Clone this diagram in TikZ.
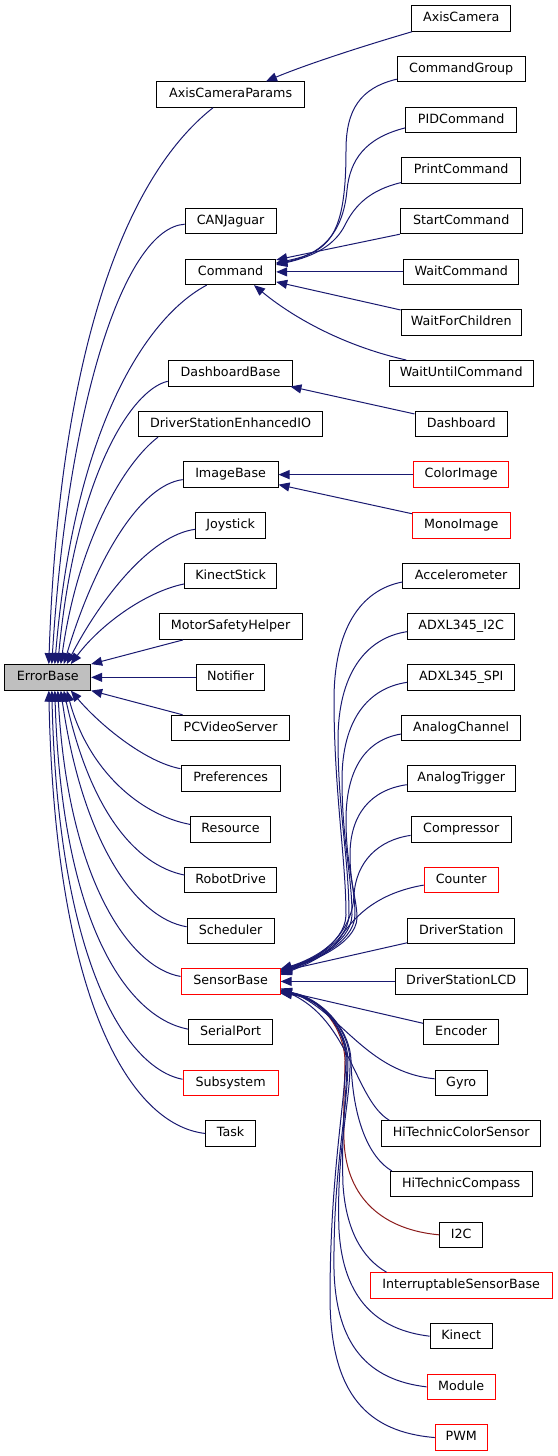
\documentclass[tikz,border=0pt]{standalone}
\usepackage{fontspec}
\newfontfamily\djv{DejaVu Sans}
\usetikzlibrary{arrows.meta,calc}
\definecolor{edgeblue}{HTML}{191970}
\definecolor{edgered}{HTML}{8B1A1A}
\definecolor{basegray}{HTML}{BFBFBF}
\tikzset{
  cls/.style={draw=black, line width=1pt, fill=white, minimum height=25.5pt,
    inner xsep=1pt, inner ysep=0pt, text height=9.4pt, text depth=2.9pt,
    font=\djv\fontsize{12.7}{15}\selectfont},
  clsred/.style={cls, draw=red},
  inh/.style={draw=edgeblue, line width=1pt, -{Triangle[length=11pt,width=9pt]}},
  inhred/.style={inh, draw=edgered},
}
\begin{document}
\begin{tikzpicture}[x=1pt,y=-1pt]
\useasboundingbox (0,0) rectangle (557,1456);
% right column
\node[cls, minimum width=99.5pt] (ACam) at (461.2,18.5) {AxisCamera};
\node[cls, minimum width=127.9pt] (CG) at (461.2,69.18) {CommandGroup};
\node[cls, minimum width=110.8pt] (PIDC) at (461.2,119.86) {PIDCommand};
\node[cls, minimum width=119.0pt] (PrC) at (461.2,170.54) {PrintCommand};
\node[cls, minimum width=121.8pt] (StC) at (461.2,221.22) {StartCommand};
\node[cls, minimum width=115.1pt] (WC) at (461.2,271.9) {WaitCommand};
\node[cls, minimum width=120.1pt] (WFC) at (461.2,322.58) {WaitForChildren};
\node[cls, minimum width=144.2pt] (WUC) at (461.2,373.26) {WaitUntilCommand};
\node[cls, minimum width=92.4pt] (Dash) at (461.2,423.94) {Dashboard};
\node[clsred, minimum width=95.2pt] (CI) at (461.2,474.62) {ColorImage};
\node[clsred, minimum width=97.7pt] (MI) at (461.2,525.3) {MonoImage};
\node[cls, minimum width=116.5pt] (Acc) at (461.2,575.98) {Accelerometer};
\node[cls, minimum width=107.3pt] (AI2C) at (461.2,626.66) {ADXL345\_I2C};
\node[cls, minimum width=107.3pt] (ASPI) at (461.2,677.34) {ADXL345\_SPI};
\node[cls, minimum width=119.4pt] (AC) at (461.2,728.02) {AnalogChannel};
\node[cls, minimum width=108.0pt] (AT) at (461.2,778.7) {AnalogTrigger};
\node[cls, minimum width=100.2pt] (Comp) at (461.2,829.38) {Compressor};
\node[clsred, minimum width=73.9pt] (Cnt) at (461.2,880.06) {Counter};
\node[cls, minimum width=106.9pt] (DS) at (461.2,930.74) {DriverStation};
\node[cls, minimum width=132.2pt] (DSLCD) at (461.2,981.42) {DriverStationLCD};
\node[cls, minimum width=75.3pt] (Enc) at (461.2,1032.1) {Encoder};
\node[cls, minimum width=52.2pt] (Gyro) at (461.2,1082.78) {Gyro};
\node[cls, minimum width=158.8pt] (HTCS) at (461.2,1133.46) {HiTechnicColorSensor};
\node[cls, minimum width=141.7pt] (HTC) at (461.2,1184.14) {HiTechnicCompass};
\node[cls, minimum width=43.0pt] (I2C) at (461.2,1234.82) {I2C};
\node[clsred, minimum width=182.2pt] (ISB) at (461.2,1285.5) {InterruptableSensorBase};
\node[cls, minimum width=62.2pt] (Kin) at (461.2,1336.18) {Kinect};
\node[clsred, minimum width=68.2pt] (Mod) at (461.2,1386.86) {Module};
\node[clsred, minimum width=51.9pt] (PWM) at (461.2,1437.54) {PWM};
% middle column
\node[cls, minimum width=147.4pt] (ACP) at (230.6,94.52) {AxisCameraParams};
\node[cls, minimum width=90.9pt] (CAN) at (230.6,221.22) {CANJaguar};
\node[cls, minimum width=90.2pt] (Cmd) at (230.6,271.9) {Command};
\node[cls, minimum width=124.7pt] (DB) at (230.6,373.26) {DashboardBase};
\node[cls, minimum width=183.3pt] (DSEIO) at (230.6,423.94) {DriverStationEnhancedIO};
\node[cls, minimum width=94.8pt] (IB) at (230.6,474.62) {ImageBase};
\node[cls, minimum width=69.6pt] (Joy) at (230.6,525.3) {Joystick};
\node[cls, minimum width=92.4pt] (KS) at (230.6,575.98) {KinectStick};
\node[cls, minimum width=142.8pt] (MSH) at (230.6,626.66) {MotorSafetyHelper};
\node[cls, minimum width=68.2pt] (Notif) at (230.6,677.34) {Notifier};
\node[cls, minimum width=117.9pt] (PCVS) at (230.6,728.02) {PCVideoServer};
\node[cls, minimum width=99.1pt] (Pref) at (230.6,778.7) {Preferences};
\node[cls, minimum width=80.3pt] (Res) at (230.6,829.38) {Resource};
\node[cls, minimum width=91.3pt] (RD) at (230.6,880.06) {RobotDrive};
\node[cls, minimum width=87.0pt] (Sched) at (230.6,930.74) {Scheduler};
\node[clsred, minimum width=99.1pt] (SB) at (230.6,981.42) {SensorBase};
\node[cls, minimum width=84.5pt] (SP) at (230.6,1032.1) {SerialPort};
\node[clsred, minimum width=95.2pt] (Sub) at (230.6,1082.78) {Subsystem};
\node[cls, minimum width=49.7pt] (Task) at (230.6,1133.46) {Task};
% base
\node[cls, fill=basegray, minimum width=85.7pt] (EB) at (47.8,677.34) {ErrorBase};

% ---- edges into ErrorBase (top)
\draw[inh] ($(ACP.south)+(-17.6,0)$) .. controls (115,185) and (58,380) .. ($(EB.north)+(1,0)$);
\draw[inh] ($(CAN.west)+(0,3)$) .. controls (125,228) and (68,400) .. ($(EB.north)+(4,0)$);
\draw[inh] ($(Cmd.south)+(-23.9,0)$) .. controls (150,315) and (75,420) .. ($(EB.north)+(7,0)$);
\draw[inh] ($(DB.west)+(0,8)$) .. controls (130,390) and (75,480) .. ($(EB.north)+(10,0)$);
\draw[inh] ($(DSEIO.south)+(-72.6,0)$) .. controls (125,462) and (78,540) .. ($(EB.north)+(13,0)$);
\draw[inh] ($(IB.west)+(0,5)$) .. controls (140,485) and (95,560) .. ($(EB.north)+(16,0)$);
\draw[inh] ($(Joy.west)+(0,4)$) .. controls (150,535) and (100,600) .. ($(EB.north)+(19,0)$);
\draw[inh] ($(KS.west)+(0,8)$) .. controls (145,592) and (100,625) .. ($(EB.north)+(23,0)$);
\draw[inh] ($(MSH.south)+(-47.6,0)$) -- (EB.north east);
\draw[inh] (Notif.west) -- (EB.east);
\draw[inh] ($(PCVS.north west)+(11.4,0)$) -- (EB.south east);
% ---- edges into ErrorBase (bottom)
\draw[inh] ($(Pref.west)+(0,-10)$) .. controls (145,762) and (100,725) .. ($(EB.south)+(23,0)$);
\draw[inh] ($(Res.west)+(0,-5)$) .. controls (140,815) and (88,770) .. ($(EB.south)+(19,0)$);
\draw[inh] ($(RD.west)+(0,-5)$) .. controls (135,865) and (90,810) .. ($(EB.south)+(16,0)$);
\draw[inh] ($(Sched.west)+(0,-4)$) .. controls (135,918) and (82,840) .. ($(EB.south)+(13,0)$);
\draw[inh] ($(SB.west)+(0,-5)$) .. controls (130,968) and (68,880) .. ($(EB.south)+(10,0)$);
\draw[inh] ($(SP.west)+(0,-3)$) .. controls (130,1018) and (62,930) .. ($(EB.south)+(7,0)$);
\draw[inh] ($(Sub.west)+(0,-3.5)$) .. controls (125,1068) and (58,960) .. ($(EB.south)+(4,0)$);
\draw[inh] (Task.west) .. controls (130,1125) and (55,1000) .. ($(EB.south)+(1,0)$);

% ---- AxisCameraParams
\draw[inh] ($(ACam.south west)+(1,0)$) .. controls (370,44) and (310,63) .. ($(ACP.north)+(35.4,0)$);
% ---- Command
\draw[inh] ($(CG.west)+(0,10)$) .. controls (360,88) and (346,110) .. (346,150) .. controls (346,235) and (330,252) .. ($(Cmd.east)+(0,-9)$);
\draw[inh] ($(PIDC.west)+(0,8)$) .. controls (365,138) and (350,160) .. (347,190) .. controls (343,235) and (320,255) .. ($(Cmd.east)+(0,-8)$);
\draw[inh] ($(PrC.west)+(0,12)$) .. controls (370,190) and (355,205) .. (345,225) .. controls (335,245) and (315,256) .. ($(Cmd.east)+(0,-7)$);
\draw[inh] ($(StC.west)+(0,13)$) -- ($(Cmd.east)+(0,-12)$);
\draw[inh] (WC.west) -- (Cmd.east);
\draw[inh] ($(WFC.west)+(0,-12.6)$) -- ($(Cmd.east)+(0,10)$);
\draw[inh] ($(WUC.north west)+(17.6,0)$) .. controls (340,345) and (290,315) .. ($(Cmd.south)+(23.4,0)$);
% ---- DashboardBase, ImageBase
\draw[inh] ($(Dash.west)+(0,-10)$) -- ($(DB.south east)+(-3,0)$);
\draw[inh] (CI.west) -- (IB.east);
\draw[inh] ($(MI.west)+(0,-11.6)$) -- ($(IB.east)+(0,10)$);

% ---- SensorBase
\draw[inhred] (I2C.west) .. controls (385,1230) and (346,1200) .. (344,1140) .. controls (343,1100) and (345,1080) .. (345,1060) .. controls (344,1030) and (322,998) .. ($(SB.east)+(0,10)$);
\draw[inh] ($(Acc.west)+(0,6)$) .. controls (360,590) and (334,630) .. (334,700) .. controls (334,790) and (346,860) .. (346,915) .. controls (345,945) and (305,962) .. ($(SB.east)+(0,-12.5)$);
\draw[inh] ($(AI2C.west)+(0,5)$) .. controls (365,638) and (338,675) .. (338,740) .. controls (338,810) and (349,860) .. (349,915) .. controls (348,945) and (306,962) .. ($(SB.east)+(0,-11.5)$);
\draw[inh] ($(ASPI.west)+(0,5)$) .. controls (368,688) and (342,720) .. (342,780) .. controls (342,840) and (352,875) .. (352,915) .. controls (351,945) and (307,962) .. ($(SB.east)+(0,-10.5)$);
\draw[inh] ($(AC.west)+(0,6)$) .. controls (365,740) and (346,770) .. (346,820) .. controls (346,865) and (355,885) .. (355,915) .. controls (354,945) and (308,962) .. ($(SB.east)+(0,-9.5)$);
\draw[inh] ($(AT.west)+(0,6)$) .. controls (370,790) and (350,815) .. (350,855) .. controls (350,885) and (357,900) .. (357,918) .. controls (356,945) and (309,962) .. ($(SB.east)+(0,-8.5)$);
\draw[inh] ($(Comp.west)+(0,6)$) .. controls (378,840) and (356,862) .. (354,895) .. controls (352,940) and (310,962) .. ($(SB.east)+(0,-7.5)$);
\draw[inh] ($(Cnt.west)+(0,5)$) .. controls (378,893) and (356,915) .. (342,935) .. controls (330,955) and (305,965) .. ($(SB.east)+(0,-6.5)$);
\draw[inh] ($(DS.west)+(0,12)$) -- ($(SB.east)+(0,-10)$);
\draw[inh] (DSLCD.west) -- (SB.east);
\draw[inh] ($(Enc.west)+(0,-8.8)$) -- ($(SB.east)+(0,9)$);
\draw[inh] ($(Gyro.west)+(0,-4)$) .. controls (365,1072) and (340,1010) .. ($(SB.east)+(0,7)$);
\draw[inh] ($(HTCS.north west)+(8,0)$) .. controls (355,1100) and (350,1020) .. ($(SB.east)+(0,8)$);
\draw[inh] ($(HTC.north west)+(2,0)$) .. controls (365,1155) and (352,1110) .. (351,1060) .. controls (350,1030) and (322,998) .. ($(SB.east)+(0,9)$);
\draw[inh] ($(ISB.north west)+(17,0)$) .. controls (362,1258) and (346,1230) .. (343,1185) .. controls (341,1130) and (347,1090) .. (347,1060) .. controls (346,1030) and (322,998) .. ($(SB.east)+(0,10)$);
\draw[inh] (Kin.west) .. controls (378,1330) and (343,1300) .. (339,1230) .. controls (336,1150) and (351,1100) .. (350,1060) .. controls (349,1030) and (322,998) .. ($(SB.east)+(0,11)$);
\draw[inh] (Mod.west) .. controls (368,1380) and (336,1345) .. (334,1270) .. controls (333,1170) and (348,1110) .. (348,1060) .. controls (347,1030) and (322,998) .. ($(SB.east)+(0,11.5)$);
\draw[inh] (PWM.west) .. controls (368,1432) and (331,1395) .. (330,1300) .. controls (330,1180) and (344,1110) .. (346,1060) .. controls (346,1030) and (322,998) .. ($(SB.east)+(0,12)$);
\end{tikzpicture}
\end{document}
